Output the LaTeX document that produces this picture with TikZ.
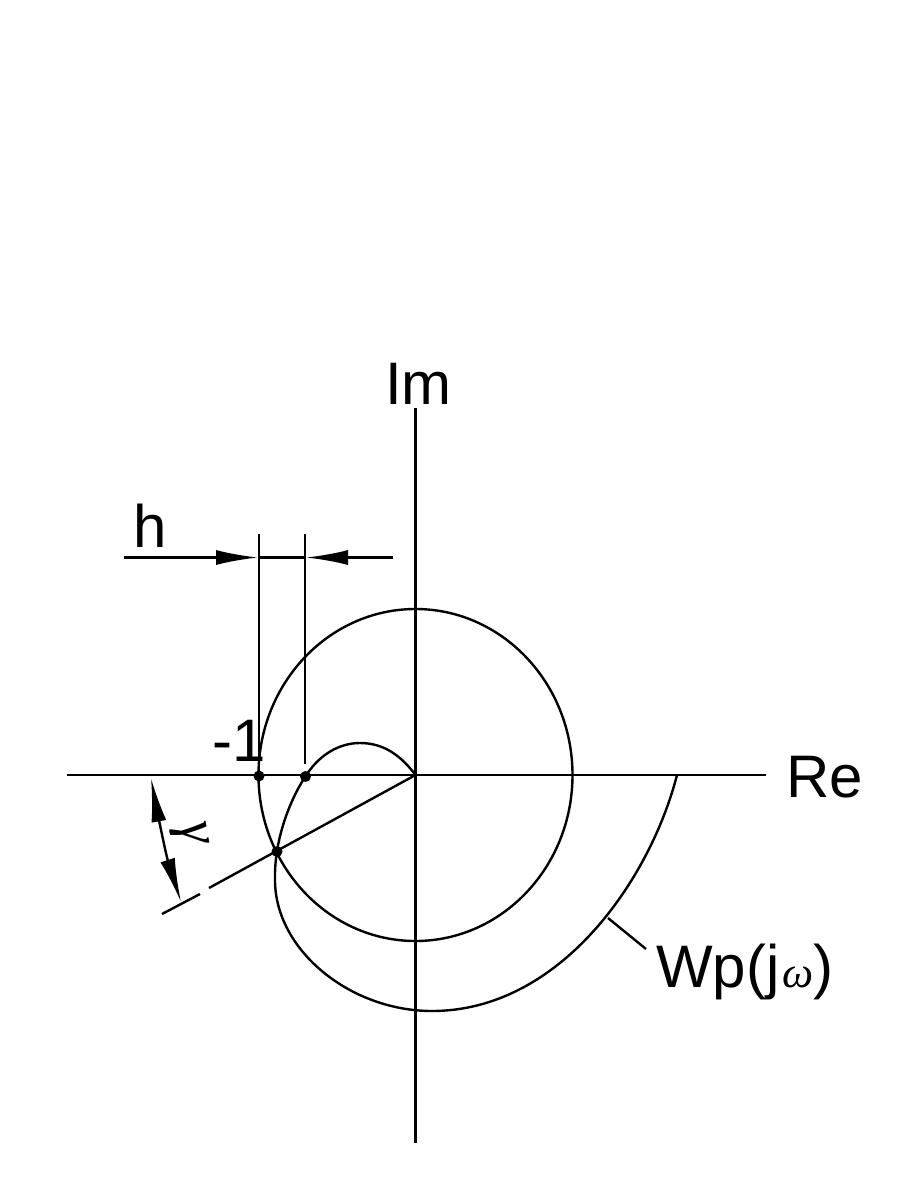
\documentclass[tikz,border=0pt]{standalone}
\usepackage{fontspec}
\setmainfont{Liberation Sans}
\newfontfamily\serifit{Liberation Serif}
\usetikzlibrary{arrows.meta}
\tikzset{
  ln/.style={line width=2.4pt,black},
  dot/.style={circle,fill=black,inner sep=0pt,minimum size=11pt},
  lab/.style={inner sep=0pt,font=\fontsize{60}{60}\selectfont,anchor=base west,text=black},
  tip/.style={-{Latex[length=#1pt,width=15pt]}},
}
\begin{document}
\begin{tikzpicture}[x=1pt,y=-1pt]
\useasboundingbox (0,0) rectangle (901,1183);
\fill[white] (0,0) rectangle (901,1183);
\coordinate (O) at (415.5,775);
\coordinate (xl) at (67,775);
\coordinate (xr) at (766,775);
\coordinate (yt) at (415.5,408);
\coordinate (yb) at (415.5,1143);
\draw[ln] (xl) -- (xr);
\draw[ln] (yt) -- (yb);
% ellipse-like circle
\draw[ln] (O) ellipse[x radius=157pt,y radius=166pt];
% spiral
\draw[ln] (677,775) .. controls (650,880) and (560,1011) .. (432,1011)
  .. controls (350,1011) and (275,950) .. (275,880)
  .. controls (274,840) and (290,800) .. (305,777)
  .. controls (318,756) and (338,743) .. (360,743)
  .. controls (385,743) and (402,757) .. (O);
% radial line
\coordinate (ra) at (200,894);
\coordinate (rb) at (209,888);
\coordinate (re) at (162,914);
\draw[ln] (O) -- (rb);
\draw[ln] (ra) -- (re);
% points
\node[dot] (p1) at (259,776) {};
\node[dot] (p2) at (305.5,776.5) {};
\node[dot] (p3) at (277,851.5) {};
% dimension h
\coordinate (v1) at (259,534);
\coordinate (v2) at (305,534);
\coordinate (v2e) at (305,764);
\coordinate (hl) at (124,557.5);
\coordinate (hr) at (393,557.5);
\coordinate (hla) at (258,557.5);
\coordinate (hra) at (306,557.5);
\draw[ln] (v1) -- (p1);
\draw[ln] (v2) -- (v2e);
\draw[ln] (hla) -- (hra);
\draw[ln,tip=42] (hl) -- (hla);
\draw[ln,tip=42] (hr) -- (hra);
% angle gamma
\coordinate (ga) at (151,778);
\coordinate (gb) at (181,902);
\draw[ln,{Latex[length=44pt,width=15pt]}-{Latex[length=44pt,width=15pt]}] (ga) .. controls (155,800) and (166,855) .. (gb);
\node[inner sep=0pt,rotate=-80,font=\serifit\itshape\fontsize{56}{56}\selectfont] (gamma) at (189,834) {γ};
% leader
\coordinate (l1) at (608,918);
\coordinate (l2) at (646,949);
\draw[ln] (l1) -- (l2);
% labels
\node[lab] (im) at (385,404) {Im};
\node[lab] (re) at (786,797) {Re};
\node[lab] (h) at (133,547) {h};
\node[lab] (m1) at (212,761) {-1};
\node[lab] (wp) at (656,987) {Wp(j\hspace{3pt}{\serifit\itshape\fontsize{44}{44}\selectfont ω})};
\end{tikzpicture}
\end{document}
